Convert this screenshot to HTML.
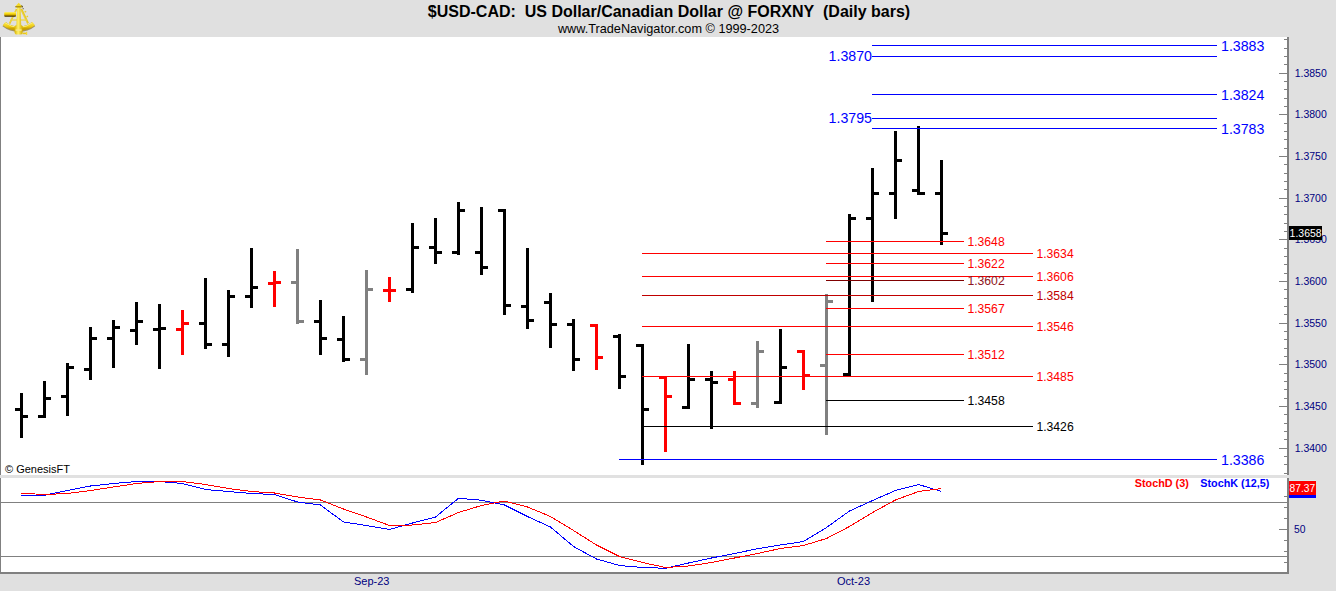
<!DOCTYPE html>
<html><head><meta charset="utf-8"><title>$USD-CAD</title>
<style>html,body{margin:0;padding:0;background:#e0e0e0;}body{width:1336px;height:591px;overflow:hidden;position:relative;font-family:"Liberation Sans",sans-serif;}svg{position:absolute;left:0;top:0;display:block}text{font-family:"Liberation Sans",sans-serif;}</style>
</head><body>
<svg width="1336" height="591" viewBox="0 0 1336 591">
<rect x="0" y="0" width="1336" height="591" fill="#e0e0e0"/>
<g shape-rendering="crispEdges">
<rect x="0" y="37" width="1287" height="438" fill="#ffffff"/>
<rect x="0" y="475" width="1289" height="3" fill="#e1e1e1"/>
<rect x="0" y="478" width="1287" height="94" fill="#ffffff"/>
<rect x="0" y="37" width="1" height="438" fill="#808080"/>
<rect x="0" y="478" width="1" height="95" fill="#808080"/>
<rect x="0" y="572" width="1289" height="2" fill="#808080"/>
<rect x="1287" y="37" width="2" height="438" fill="#808080"/>
<rect x="1287" y="478" width="2" height="96" fill="#808080"/>
<rect x="1" y="502" width="1286" height="1" fill="#808080"/>
<rect x="1" y="556" width="1286" height="1" fill="#808080"/>
<rect x="1284" y="473" width="3" height="1" fill="#808080"/>
<rect x="1284" y="464" width="3" height="1" fill="#808080"/>
<rect x="1284" y="456" width="3" height="1" fill="#808080"/>
<rect x="1279" y="448" width="8" height="1" fill="#808080"/>
<rect x="1284" y="439" width="3" height="1" fill="#808080"/>
<rect x="1284" y="431" width="3" height="1" fill="#808080"/>
<rect x="1284" y="423" width="3" height="1" fill="#808080"/>
<rect x="1284" y="414" width="3" height="1" fill="#808080"/>
<rect x="1279" y="406" width="8" height="1" fill="#808080"/>
<rect x="1284" y="398" width="3" height="1" fill="#808080"/>
<rect x="1284" y="389" width="3" height="1" fill="#808080"/>
<rect x="1284" y="381" width="3" height="1" fill="#808080"/>
<rect x="1284" y="373" width="3" height="1" fill="#808080"/>
<rect x="1279" y="364" width="8" height="1" fill="#808080"/>
<rect x="1284" y="356" width="3" height="1" fill="#808080"/>
<rect x="1284" y="348" width="3" height="1" fill="#808080"/>
<rect x="1284" y="339" width="3" height="1" fill="#808080"/>
<rect x="1284" y="331" width="3" height="1" fill="#808080"/>
<rect x="1279" y="323" width="8" height="1" fill="#808080"/>
<rect x="1284" y="314" width="3" height="1" fill="#808080"/>
<rect x="1284" y="306" width="3" height="1" fill="#808080"/>
<rect x="1284" y="298" width="3" height="1" fill="#808080"/>
<rect x="1284" y="289" width="3" height="1" fill="#808080"/>
<rect x="1279" y="281" width="8" height="1" fill="#808080"/>
<rect x="1284" y="273" width="3" height="1" fill="#808080"/>
<rect x="1284" y="264" width="3" height="1" fill="#808080"/>
<rect x="1284" y="256" width="3" height="1" fill="#808080"/>
<rect x="1284" y="248" width="3" height="1" fill="#808080"/>
<rect x="1279" y="239" width="8" height="1" fill="#808080"/>
<rect x="1284" y="231" width="3" height="1" fill="#808080"/>
<rect x="1284" y="223" width="3" height="1" fill="#808080"/>
<rect x="1284" y="214" width="3" height="1" fill="#808080"/>
<rect x="1284" y="206" width="3" height="1" fill="#808080"/>
<rect x="1279" y="198" width="8" height="1" fill="#808080"/>
<rect x="1284" y="189" width="3" height="1" fill="#808080"/>
<rect x="1284" y="181" width="3" height="1" fill="#808080"/>
<rect x="1284" y="173" width="3" height="1" fill="#808080"/>
<rect x="1284" y="164" width="3" height="1" fill="#808080"/>
<rect x="1279" y="156" width="8" height="1" fill="#808080"/>
<rect x="1284" y="148" width="3" height="1" fill="#808080"/>
<rect x="1284" y="139" width="3" height="1" fill="#808080"/>
<rect x="1284" y="131" width="3" height="1" fill="#808080"/>
<rect x="1284" y="123" width="3" height="1" fill="#808080"/>
<rect x="1279" y="114" width="8" height="1" fill="#808080"/>
<rect x="1284" y="106" width="3" height="1" fill="#808080"/>
<rect x="1284" y="98" width="3" height="1" fill="#808080"/>
<rect x="1284" y="89" width="3" height="1" fill="#808080"/>
<rect x="1284" y="81" width="3" height="1" fill="#808080"/>
<rect x="1279" y="73" width="8" height="1" fill="#808080"/>
<rect x="1284" y="64" width="3" height="1" fill="#808080"/>
<rect x="1284" y="56" width="3" height="1" fill="#808080"/>
<rect x="1284" y="48" width="3" height="1" fill="#808080"/>
<rect x="1284" y="39" width="3" height="1" fill="#808080"/>
<rect x="1284" y="496" width="3" height="1" fill="#808080"/>
<rect x="1284" y="507" width="3" height="1" fill="#808080"/>
<rect x="1284" y="518" width="3" height="1" fill="#808080"/>
<rect x="1279" y="529" width="8" height="1" fill="#808080"/>
<rect x="1284" y="540" width="3" height="1" fill="#808080"/>
<rect x="1284" y="551" width="3" height="1" fill="#808080"/>
<rect x="1284" y="562" width="3" height="1" fill="#808080"/>
<rect x="20" y="393" width="3" height="45" fill="#000000"/>
<rect x="15" y="408" width="5" height="3" fill="#000000"/>
<rect x="23" y="415" width="5" height="3" fill="#000000"/>
<rect x="43" y="381" width="3" height="37" fill="#000000"/>
<rect x="38" y="415" width="5" height="3" fill="#000000"/>
<rect x="46" y="397" width="5" height="3" fill="#000000"/>
<rect x="66" y="363" width="3" height="53" fill="#000000"/>
<rect x="61" y="395" width="5" height="3" fill="#000000"/>
<rect x="69" y="366" width="5" height="3" fill="#000000"/>
<rect x="89" y="327" width="3" height="53" fill="#000000"/>
<rect x="84" y="368" width="5" height="3" fill="#000000"/>
<rect x="92" y="337" width="5" height="3" fill="#000000"/>
<rect x="112" y="320" width="3" height="48" fill="#000000"/>
<rect x="107" y="337" width="5" height="3" fill="#000000"/>
<rect x="115" y="326" width="5" height="3" fill="#000000"/>
<rect x="135" y="302" width="3" height="43" fill="#000000"/>
<rect x="130" y="329" width="5" height="3" fill="#000000"/>
<rect x="138" y="320" width="5" height="3" fill="#000000"/>
<rect x="158" y="304" width="3" height="65" fill="#000000"/>
<rect x="153" y="328" width="5" height="3" fill="#000000"/>
<rect x="161" y="327" width="5" height="3" fill="#000000"/>
<rect x="181" y="310" width="3" height="45" fill="#ff0000"/>
<rect x="176" y="328" width="5" height="3" fill="#ff0000"/>
<rect x="184" y="322" width="5" height="3" fill="#ff0000"/>
<rect x="204" y="278" width="3" height="71" fill="#000000"/>
<rect x="199" y="322" width="5" height="3" fill="#000000"/>
<rect x="207" y="343" width="5" height="3" fill="#000000"/>
<rect x="227" y="290" width="3" height="67" fill="#000000"/>
<rect x="222" y="343" width="5" height="3" fill="#000000"/>
<rect x="230" y="295" width="5" height="3" fill="#000000"/>
<rect x="250" y="248" width="3" height="60" fill="#000000"/>
<rect x="245" y="295" width="5" height="3" fill="#000000"/>
<rect x="253" y="286" width="5" height="3" fill="#000000"/>
<rect x="273" y="271" width="3" height="36" fill="#ff0000"/>
<rect x="268" y="282" width="5" height="3" fill="#ff0000"/>
<rect x="276" y="281" width="5" height="3" fill="#ff0000"/>
<rect x="296" y="249" width="3" height="75" fill="#808080"/>
<rect x="291" y="281" width="5" height="3" fill="#808080"/>
<rect x="299" y="320" width="5" height="3" fill="#808080"/>
<rect x="319" y="300" width="3" height="55" fill="#000000"/>
<rect x="314" y="320" width="5" height="3" fill="#000000"/>
<rect x="322" y="337" width="5" height="3" fill="#000000"/>
<rect x="342" y="316" width="3" height="46" fill="#000000"/>
<rect x="337" y="338" width="5" height="3" fill="#000000"/>
<rect x="345" y="358" width="5" height="3" fill="#000000"/>
<rect x="365" y="270" width="3" height="105" fill="#808080"/>
<rect x="360" y="358" width="5" height="3" fill="#808080"/>
<rect x="368" y="288" width="5" height="3" fill="#808080"/>
<rect x="388" y="277" width="3" height="25" fill="#ff0000"/>
<rect x="383" y="289" width="5" height="3" fill="#ff0000"/>
<rect x="391" y="289" width="5" height="3" fill="#ff0000"/>
<rect x="411" y="223" width="3" height="70" fill="#000000"/>
<rect x="406" y="288" width="5" height="3" fill="#000000"/>
<rect x="414" y="246" width="5" height="3" fill="#000000"/>
<rect x="434" y="218" width="3" height="46" fill="#000000"/>
<rect x="429" y="246" width="5" height="3" fill="#000000"/>
<rect x="437" y="251" width="5" height="3" fill="#000000"/>
<rect x="457" y="202" width="3" height="53" fill="#000000"/>
<rect x="452" y="251" width="5" height="3" fill="#000000"/>
<rect x="460" y="209" width="5" height="3" fill="#000000"/>
<rect x="480" y="207" width="3" height="68" fill="#000000"/>
<rect x="475" y="251" width="5" height="3" fill="#000000"/>
<rect x="483" y="266" width="5" height="3" fill="#000000"/>
<rect x="503" y="209" width="3" height="106" fill="#000000"/>
<rect x="498" y="209" width="5" height="3" fill="#000000"/>
<rect x="506" y="304" width="5" height="3" fill="#000000"/>
<rect x="526" y="248" width="3" height="81" fill="#000000"/>
<rect x="521" y="305" width="5" height="3" fill="#000000"/>
<rect x="529" y="319" width="5" height="3" fill="#000000"/>
<rect x="549" y="293" width="3" height="55" fill="#000000"/>
<rect x="544" y="301" width="5" height="3" fill="#000000"/>
<rect x="552" y="323" width="5" height="3" fill="#000000"/>
<rect x="572" y="319" width="3" height="52" fill="#000000"/>
<rect x="567" y="323" width="5" height="3" fill="#000000"/>
<rect x="575" y="358" width="5" height="3" fill="#000000"/>
<rect x="595" y="324" width="3" height="46" fill="#ff0000"/>
<rect x="590" y="324" width="5" height="3" fill="#ff0000"/>
<rect x="598" y="356" width="5" height="3" fill="#ff0000"/>
<rect x="618" y="334" width="3" height="55" fill="#000000"/>
<rect x="613" y="335" width="5" height="3" fill="#000000"/>
<rect x="621" y="375" width="5" height="3" fill="#000000"/>
<rect x="641" y="344" width="3" height="121" fill="#000000"/>
<rect x="636" y="344" width="5" height="3" fill="#000000"/>
<rect x="644" y="408" width="5" height="3" fill="#000000"/>
<rect x="664" y="376" width="3" height="76" fill="#ff0000"/>
<rect x="659" y="376" width="5" height="3" fill="#ff0000"/>
<rect x="667" y="395" width="5" height="3" fill="#ff0000"/>
<rect x="687" y="344" width="3" height="65" fill="#000000"/>
<rect x="682" y="406" width="5" height="3" fill="#000000"/>
<rect x="690" y="378" width="5" height="3" fill="#000000"/>
<rect x="710" y="371" width="3" height="58" fill="#000000"/>
<rect x="705" y="378" width="5" height="3" fill="#000000"/>
<rect x="713" y="381" width="5" height="3" fill="#000000"/>
<rect x="733" y="371" width="3" height="34" fill="#ff0000"/>
<rect x="728" y="378" width="5" height="3" fill="#ff0000"/>
<rect x="736" y="402" width="5" height="3" fill="#ff0000"/>
<rect x="756" y="341" width="3" height="67" fill="#808080"/>
<rect x="751" y="402" width="5" height="3" fill="#808080"/>
<rect x="759" y="350" width="5" height="3" fill="#808080"/>
<rect x="779" y="329" width="3" height="75" fill="#000000"/>
<rect x="774" y="401" width="5" height="3" fill="#000000"/>
<rect x="782" y="366" width="5" height="3" fill="#000000"/>
<rect x="802" y="350" width="3" height="40" fill="#ff0000"/>
<rect x="797" y="350" width="5" height="3" fill="#ff0000"/>
<rect x="805" y="374" width="5" height="3" fill="#ff0000"/>
<rect x="825" y="294" width="3" height="141" fill="#808080"/>
<rect x="820" y="364" width="5" height="3" fill="#808080"/>
<rect x="828" y="300" width="5" height="3" fill="#808080"/>
<rect x="848" y="214" width="3" height="162" fill="#000000"/>
<rect x="843" y="373" width="5" height="3" fill="#000000"/>
<rect x="851" y="217" width="5" height="3" fill="#000000"/>
<rect x="871" y="168" width="3" height="134" fill="#000000"/>
<rect x="866" y="217" width="5" height="3" fill="#000000"/>
<rect x="874" y="192" width="5" height="3" fill="#000000"/>
<rect x="894" y="131" width="3" height="88" fill="#000000"/>
<rect x="889" y="192" width="5" height="3" fill="#000000"/>
<rect x="897" y="159" width="5" height="3" fill="#000000"/>
<rect x="917" y="126" width="3" height="69" fill="#000000"/>
<rect x="912" y="189" width="5" height="3" fill="#000000"/>
<rect x="920" y="192" width="5" height="3" fill="#000000"/>
<rect x="940" y="160" width="3" height="85" fill="#000000"/>
<rect x="935" y="192" width="5" height="3" fill="#000000"/>
<rect x="943" y="232" width="5" height="3" fill="#000000"/>
<rect x="872" y="45" width="345" height="1" fill="#0000ff"/>
<rect x="872" y="56" width="345" height="1" fill="#0000ff"/>
<rect x="872" y="94" width="345" height="1" fill="#0000ff"/>
<rect x="872" y="118" width="345" height="1" fill="#0000ff"/>
<rect x="872" y="128" width="345" height="1" fill="#0000ff"/>
<rect x="619" y="459" width="598" height="1" fill="#0000ff"/>
<rect x="826" y="241" width="138" height="1" fill="#ff0000"/>
<rect x="642" y="253" width="391" height="1" fill="#ff0000"/>
<rect x="826" y="263" width="138" height="1" fill="#ff0000"/>
<rect x="642" y="276" width="391" height="1" fill="#ff0000"/>
<rect x="826" y="280" width="138" height="1" fill="#800000"/>
<rect x="642" y="295" width="391" height="1" fill="#c00000"/>
<rect x="826" y="308" width="138" height="1" fill="#ff0000"/>
<rect x="642" y="326" width="391" height="1" fill="#ff0000"/>
<rect x="826" y="354" width="138" height="1" fill="#ff0000"/>
<rect x="642" y="376" width="391" height="1" fill="#ff0000"/>
<rect x="826" y="400" width="138" height="1" fill="#000"/>
<rect x="642" y="426" width="391" height="1" fill="#000"/>
<rect x="1289" y="226" width="33" height="14" fill="#000"/>
<rect x="1289" y="481" width="27" height="14" fill="#ff0000"/>
<rect x="1289" y="480" width="27" height="1" fill="#d8f0f0"/>
<rect x="1289" y="495" width="27" height="3" fill="#0000ff"/>
</g>
<polyline points="21.5,495.50 44.5,495.25 67.5,490.50 90.5,486.00 113.5,483.50 136.5,481.50 159.5,481.50 182.5,483.50 205.5,489.50 228.5,491.50 251.5,493.50 274.5,494.50 297.5,502.00 320.5,505.00 343.5,522.00 366.5,525.50 389.5,529.50 412.5,523.00 435.5,517.00 458.5,498.25 481.5,500.25 504.5,505.00 527.5,516.50 550.5,527.00 573.5,546.50 596.5,559.00 619.5,565.50 642.5,567.50 665.5,568.25 688.5,563.00 711.5,558.00 734.5,553.50 757.5,548.75 780.5,545.00 803.5,541.50 826.5,527.50 849.5,511.00 872.5,500.50 895.5,490.50 918.5,484.50 941.5,491.50" fill="none" stroke="#0000ff" stroke-width="1" stroke-linejoin="bevel" shape-rendering="crispEdges"/>
<polyline points="21.5,493.25 44.5,494.50 67.5,493.50 90.5,490.50 113.5,487.00 136.5,483.50 159.5,481.50 182.5,481.50 205.5,484.50 228.5,488.50 251.5,491.50 274.5,493.00 297.5,497.00 320.5,500.00 343.5,509.00 366.5,517.00 389.5,525.50 412.5,525.00 435.5,522.50 458.5,512.50 481.5,505.50 504.5,501.00 527.5,507.00 550.5,516.50 573.5,530.50 596.5,545.00 619.5,556.50 642.5,562.50 665.5,567.50 688.5,566.00 711.5,562.50 734.5,558.00 757.5,553.50 780.5,548.50 803.5,545.50 826.5,538.50 849.5,526.50 872.5,512.50 895.5,500.00 918.5,491.50 941.5,488.50" fill="none" stroke="#ff0000" stroke-width="1" stroke-linejoin="bevel" shape-rendering="crispEdges"/>
<defs>
<linearGradient id="gv" x1="0" y1="0" x2="0" y2="1"><stop offset="0" stop-color="#fff27a"/><stop offset="0.35" stop-color="#f6d812"/><stop offset="0.62" stop-color="#d4ad00"/><stop offset="0.82" stop-color="#6a4e00"/><stop offset="1" stop-color="#2a1e00"/></linearGradient>
<linearGradient id="gh" x1="0" y1="0" x2="1" y2="0"><stop offset="0" stop-color="#d9b400"/><stop offset="0.45" stop-color="#fff06a"/><stop offset="1" stop-color="#d1ab00"/></linearGradient>
<linearGradient id="ga" x1="0" y1="0" x2="0" y2="1"><stop offset="0" stop-color="#f8e040"/><stop offset="0.6" stop-color="#ecc910"/><stop offset="1" stop-color="#c79f00"/></linearGradient>
</defs>
<g id="sextant">
<path d="M16.6 9 L9.6 23.6" stroke="#e8cb22" stroke-width="1.7" fill="none"/>
<path d="M21.2 9 L28 23.4" stroke="#e6c720" stroke-width="2.1" fill="none"/>
<path d="M24.6 12.2 L26.2 11.4 M26.6 16.8 L28 16.2" stroke="#e8cc2c" stroke-width="1.4" fill="none"/>
<path d="M20.9 9.6 L27.2 23" stroke="#fff59a" stroke-width="0.5" fill="none" opacity="0.5"/>
<path d="M16.2 9.8 L10 22.6" stroke="#fff7b0" stroke-width="0.4" fill="none" opacity="0.5"/>
<path d="M10.8 20 L27.2 20" stroke="#ecd548" stroke-width="1.3" fill="none"/>
<path d="M4.1 23.6 A23.75 23.75 0 0 0 33.6 23.6" stroke="#6b5200" stroke-width="5.2" fill="none" opacity="0.55" transform="translate(0,0.5)"/>
<path d="M4.1 23.6 A23.75 23.75 0 0 0 33.6 23.6" stroke="url(#ga)" stroke-width="4.4" fill="none"/>
<path d="M5 22.6 A22.3 22.3 0 0 0 32.6 22.6" stroke="#fff48a" stroke-width="1" fill="none" opacity="0.8"/>
<rect x="4.2" y="11.9" width="11.8" height="4.9" rx="1" fill="url(#gv)"/>
<polygon points="17.2,6.3 20.5,6.3 21.2,25 22.6,26 22.6,33 21.4,34.4 15.8,34.4 14.6,33 14.6,26 16.4,25" fill="url(#gh)"/>
<polygon points="15.4,6.4 18.7,2.7 22.2,6.4 21,7.8 16.8,7.8" fill="#f4d822"/>
<path d="M21.6 5.6 L22.8 6.6 M22.6 8 L23.6 8.8" stroke="#1a1200" stroke-width="0.9"/>
<path d="M15.2 6.8 L22.6 6.8" stroke="#7a5e00" stroke-width="0.8"/>
<rect x="22.4" y="32.6" width="4" height="1.6" fill="#e9c81a"/>
<rect x="26" y="31.8" width="1.2" height="3.2" fill="#f3d93a"/>
<rect x="15.6" y="29.2" width="6" height="1.8" fill="#f9e98a" opacity="0.8"/>
</g>
<text x="669" y="17" font-size="16" fill="#000" text-anchor="middle" font-weight="bold" xml:space="preserve">$USD-CAD:&#160; US Dollar/Canadian Dollar @ FORXNY&#160; (Daily bars)</text>
<text x="668.5" y="33.3" font-size="12.7" fill="#000" text-anchor="middle" font-weight="normal" >www.TradeNavigator.com © 1999-2023</text>
<text x="5" y="473" font-size="11" fill="#000" text-anchor="start" font-weight="normal" >© GenesisFT</text>
<text x="1221" y="50.6" font-size="14.2" fill="#0000ff" text-anchor="start" font-weight="normal" >1.3883</text>
<text x="1221" y="99.6" font-size="14.2" fill="#0000ff" text-anchor="start" font-weight="normal" >1.3824</text>
<text x="1221" y="133.6" font-size="14.2" fill="#0000ff" text-anchor="start" font-weight="normal" >1.3783</text>
<text x="1221" y="464.6" font-size="14.2" fill="#0000ff" text-anchor="start" font-weight="normal" >1.3386</text>
<text x="872" y="61.1" font-size="14.2" fill="#0000ff" text-anchor="end" font-weight="normal" >1.3870</text>
<text x="872" y="123.1" font-size="14.2" fill="#0000ff" text-anchor="end" font-weight="normal" >1.3795</text>
<text x="967.4" y="245.5" font-size="12.2" fill="#ff0000" text-anchor="start" font-weight="normal" >1.3648</text>
<text x="1036.4" y="257.5" font-size="12.2" fill="#ff0000" text-anchor="start" font-weight="normal" >1.3634</text>
<text x="967.4" y="267.5" font-size="12.2" fill="#ff0000" text-anchor="start" font-weight="normal" >1.3622</text>
<text x="1036.4" y="280.5" font-size="12.2" fill="#ff0000" text-anchor="start" font-weight="normal" >1.3606</text>
<text x="967.4" y="284.5" font-size="12.2" fill="#8e1420" text-anchor="start" font-weight="normal" >1.3602</text>
<text x="1036.4" y="299.5" font-size="12.2" fill="#c00000" text-anchor="start" font-weight="normal" >1.3584</text>
<text x="967.4" y="312.5" font-size="12.2" fill="#ff0000" text-anchor="start" font-weight="normal" >1.3567</text>
<text x="1036.4" y="330.5" font-size="12.2" fill="#ff0000" text-anchor="start" font-weight="normal" >1.3546</text>
<text x="967.4" y="358.5" font-size="12.2" fill="#ff0000" text-anchor="start" font-weight="normal" >1.3512</text>
<text x="1036.4" y="380.5" font-size="12.2" fill="#ff0000" text-anchor="start" font-weight="normal" >1.3485</text>
<text x="967.4" y="404.5" font-size="12.2" fill="#000" text-anchor="start" font-weight="normal" >1.3458</text>
<text x="1036.4" y="430.5" font-size="12.2" fill="#000" text-anchor="start" font-weight="normal" >1.3426</text>
<text x="1294.7" y="451.9" font-size="10.5" fill="#000080" text-anchor="start" font-weight="normal" >1.3400</text>
<text x="1294.7" y="409.9" font-size="10.5" fill="#000080" text-anchor="start" font-weight="normal" >1.3450</text>
<text x="1294.7" y="367.9" font-size="10.5" fill="#000080" text-anchor="start" font-weight="normal" >1.3500</text>
<text x="1294.7" y="326.9" font-size="10.5" fill="#000080" text-anchor="start" font-weight="normal" >1.3550</text>
<text x="1294.7" y="284.9" font-size="10.5" fill="#000080" text-anchor="start" font-weight="normal" >1.3600</text>
<text x="1294.7" y="242.9" font-size="10.5" fill="#000080" text-anchor="start" font-weight="normal" >1.3650</text>
<text x="1294.7" y="201.9" font-size="10.5" fill="#000080" text-anchor="start" font-weight="normal" >1.3700</text>
<text x="1294.7" y="159.9" font-size="10.5" fill="#000080" text-anchor="start" font-weight="normal" >1.3750</text>
<text x="1294.7" y="117.9" font-size="10.5" fill="#000080" text-anchor="start" font-weight="normal" >1.3800</text>
<text x="1294.7" y="76.9" font-size="10.5" fill="#000080" text-anchor="start" font-weight="normal" >1.3850</text>
<rect x="1289" y="226" width="33" height="14" fill="#000" shape-rendering="crispEdges"/>
<text x="1289.6" y="237" font-size="11" fill="#fff" text-anchor="start" font-weight="normal" textLength="32" lengthAdjust="spacingAndGlyphs">1.3658</text>
<text x="1289.6" y="492" font-size="11" fill="#fff" text-anchor="start" font-weight="normal" textLength="25.6" lengthAdjust="spacingAndGlyphs">87.37</text>
<text x="1294" y="533" font-size="10.3" fill="#000080" text-anchor="start" font-weight="normal" >50</text>
<text x="1134.8" y="487" font-size="10.8" fill="#ff0000" text-anchor="start" font-weight="bold" >StochD (3)</text>
<text x="1200.3" y="487" font-size="10.8" fill="#0000ff" text-anchor="start" font-weight="bold" >StochK (12,5)</text>
<text x="354" y="585" font-size="11" fill="#000080" text-anchor="start" font-weight="normal" >Sep-23</text>
<text x="837" y="585" font-size="11" fill="#000080" text-anchor="start" font-weight="normal" >Oct-23</text>
</svg>
</body></html>
